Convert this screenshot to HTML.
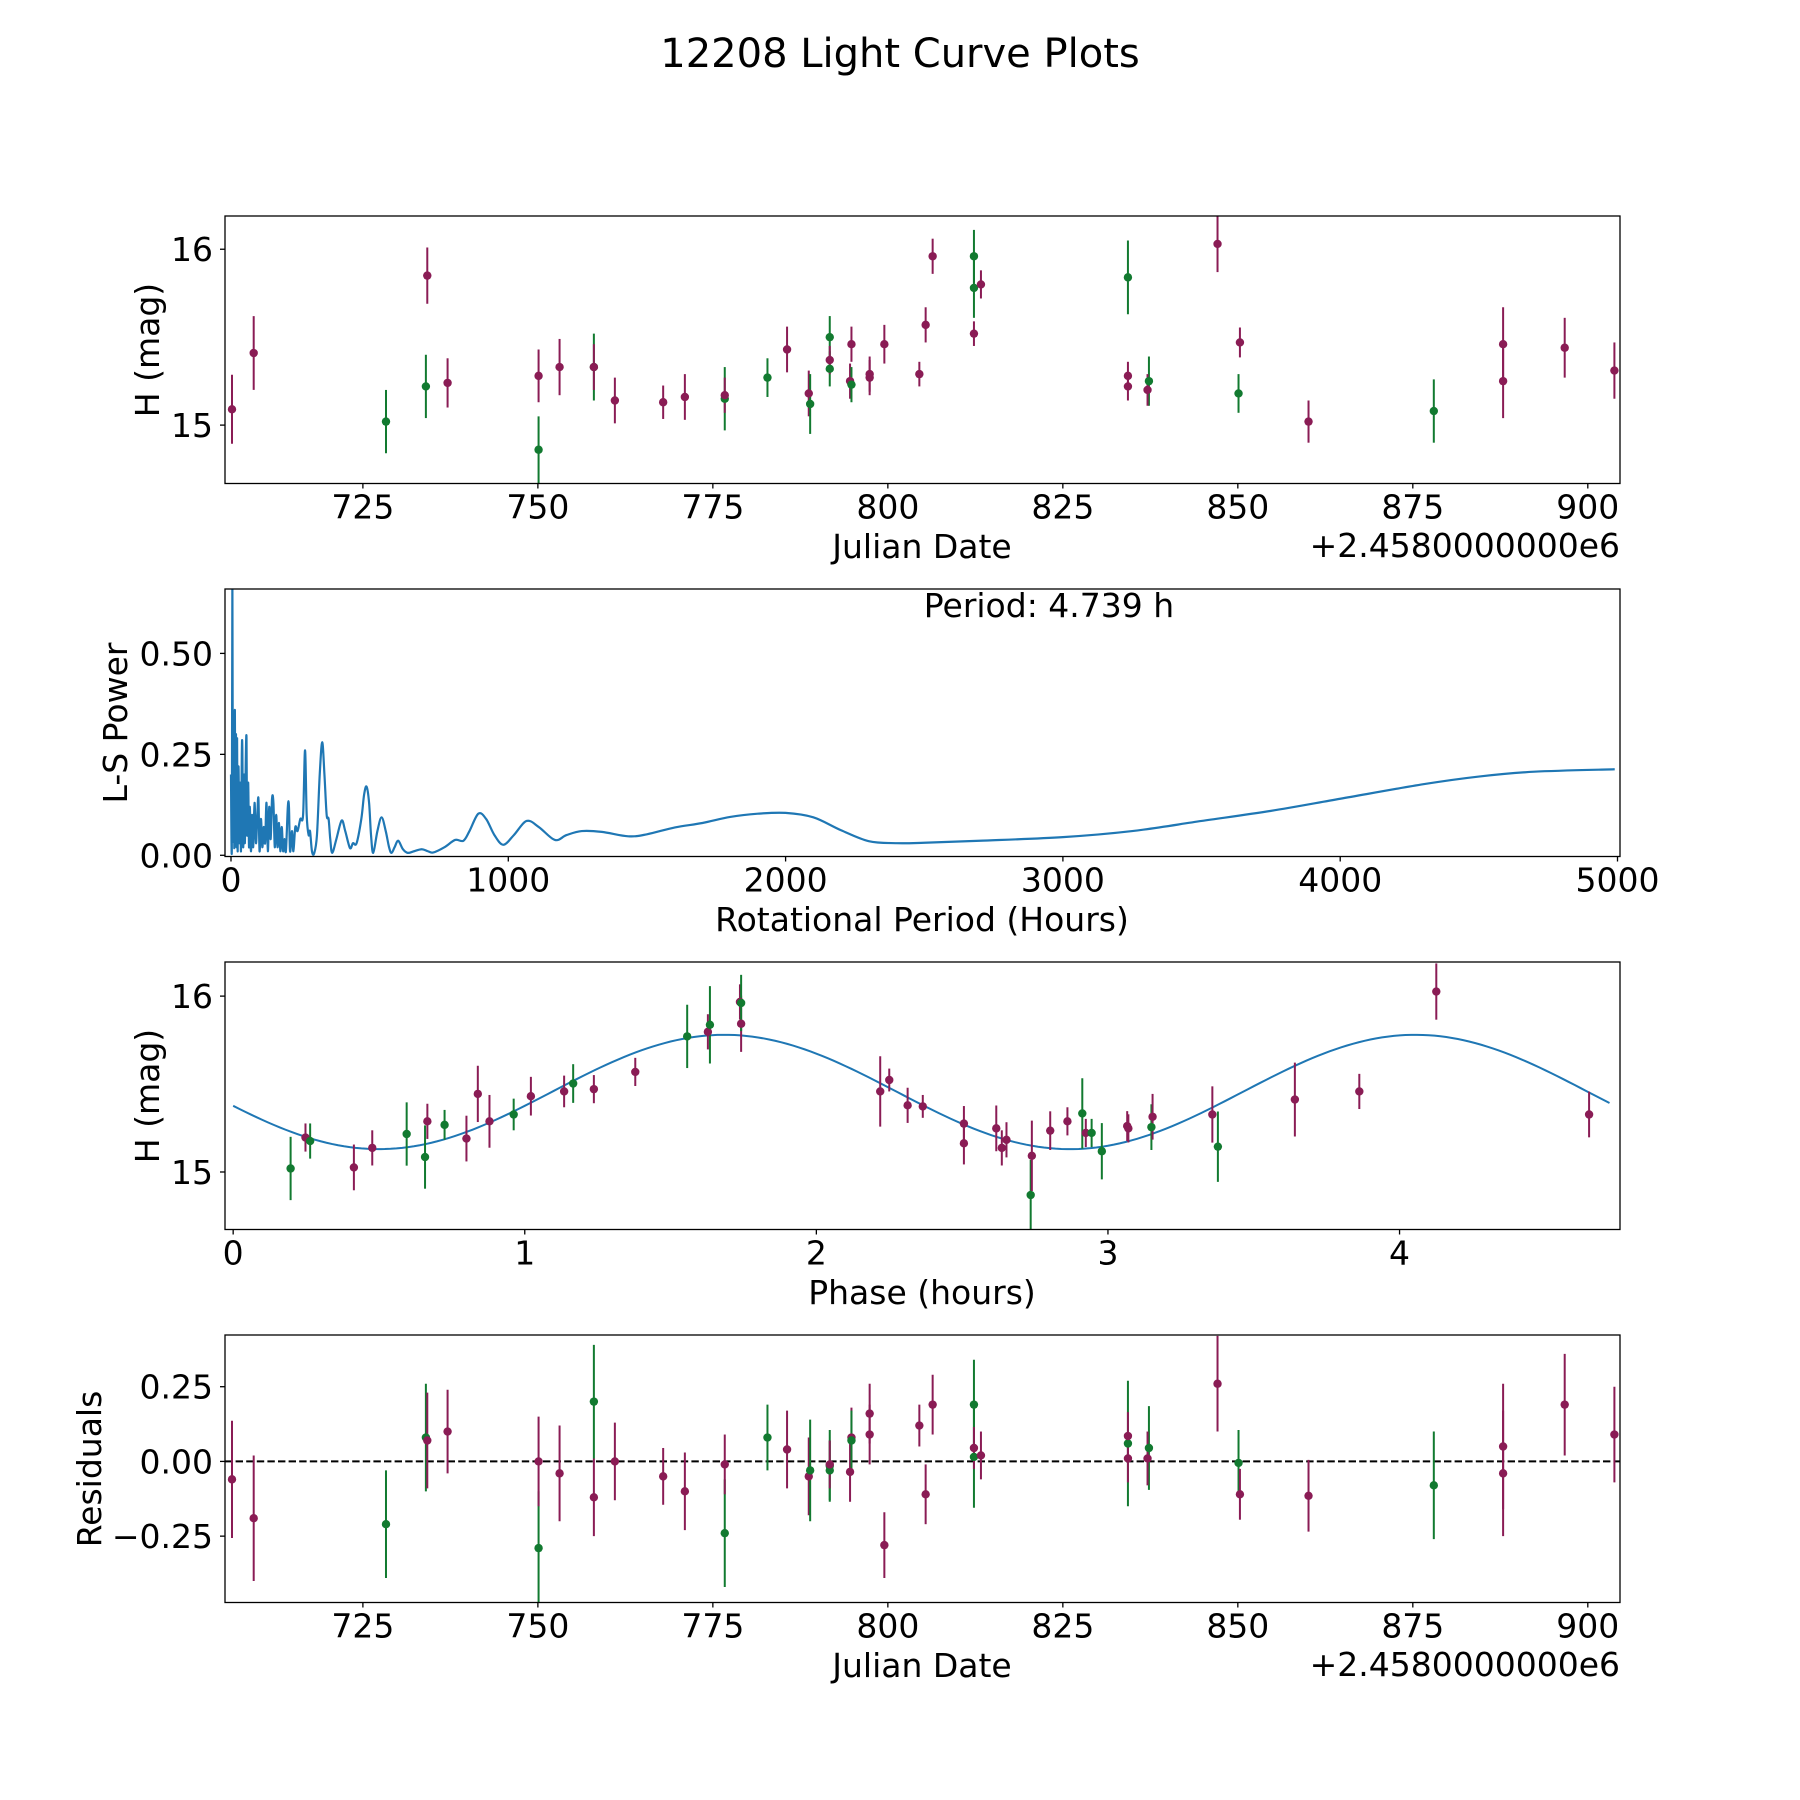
<!DOCTYPE html>
<html><head><meta charset="utf-8"><title>12208 Light Curve Plots</title>
<style>
html,body{margin:0;padding:0;background:#fff;}
svg{display:block;font-family:"DejaVu Sans","Liberation Sans",sans-serif;}
</style></head>
<body>
<svg id="fig" width="1800" height="1800" viewBox="0 0 1800 1800" xmlns="http://www.w3.org/2000/svg">
<rect width="1800" height="1800" fill="#fff"/>
<text x="900" y="67" font-size="40" text-anchor="middle">12208 Light Curve Plots</text>
</svg>
<script>
// ---------- Data: light curve (panel 1) ----------
const obsDates = [706.3,709.4,728.3,734.0,734.2,737.1,750.1,750.1,753.1,758.0,758.0,761.0,767.9,771.0,776.7,776.7,782.8,785.6,788.7,788.9,791.7,791.7,791.7,794.8,794.6,794.8,797.4,797.4,799.5,804.5,805.4,806.4,812.3,812.3,812.3,813.3,834.3,834.3,834.3,837.3,837.1,847.1,850.1,850.3,860.1,878.0,887.9,887.9,896.7,903.8];
const obsMags = [15.09,15.41,15.02,15.22,15.85,15.24,14.86,15.28,15.33,15.33,15.33,15.14,15.13,15.16,15.15,15.17,15.27,15.43,15.18,15.12,15.50,15.32,15.37,15.46,15.25,15.23,15.29,15.27,15.46,15.29,15.57,15.96,15.96,15.78,15.52,15.80,15.84,15.28,15.22,15.25,15.20,16.03,15.18,15.47,15.02,15.08,15.46,15.25,15.44,15.31];
const obsErrs = [0.196,0.21,0.18,0.18,0.16,0.14,0.19,0.15,0.16,0.19,0.13,0.13,0.095,0.13,0.18,0.1,0.11,0.13,0.13,0.17,0.12,0.10,0.08,0.1,0.1,0.1,0.1,0.1,0.11,0.07,0.1,0.1,0.15,0.17,0.07,0.08,0.21,0.08,0.08,0.14,0.09,0.16,0.11,0.085,0.12,0.18,0.21,0.21,0.17,0.16];
const obsColors = ['m','m','g','g','m','m','g','m','m','g','m','m','m','m','g','m','g','m','m','g','g','g','m','m','m','g','m','m','m','m','m','m','g','g','m','m','g','m','m','g','m','m','g','m','m','g','m','m','m','m'];
// ---------- Data: residuals (panel 4) ----------
const residuals = [-0.06,-0.19,-0.21,0.08,0.07,0.10,-0.29,0.0,-0.04,0.20,-0.12,0.0,-0.05,-0.10,-0.24,-0.01,0.08,0.04,-0.05,-0.03,-0.015,-0.03,-0.01,0.08,-0.035,0.07,0.09,0.16,-0.28,0.12,-0.11,0.19,0.19,0.015,0.045,0.02,0.06,0.085,0.01,0.045,0.01,0.26,-0.005,-0.11,-0.115,-0.08,0.05,-0.04,0.19,0.09];
// ---------- Data: periodogram (panel 2) ----------
const lsPeriods = [0,3,5,7,10,12,14,16,18,20,22,24,27,30,33,36,39,41,44,47,50,53,56,58,62,65,68,72,76,80,85,90,95,99,103,108,113,118,123,128,133,138,143,148,153,158,163,168,173,178,183,188,193,198,205,209,213,220,225,232,240,250,260,267,273,280,285,292,300,310,320,329,337,345,352,358,365,380,399,412,429,440,453,470,480,489,498,505,513,528,543,558,570,579,590,603,620,637,660,688,710,730,770,808,838,860,892,920,950,982,1020,1066,1110,1168,1210,1265,1337,1433,1500,1601,1700,1800,1900,2000,2100,2200,2300,2400,2500,2700,3000,3250,3500,3750,4000,4300,4500,4700,4990];
const lsPower = [0.2,0.02,0.68,0.05,0.2,0.02,0.36,0.05,0.3,0.02,0.29,0.01,0.22,0.03,0.18,0.01,0.25,0.26,0.02,0.2,0.03,0.22,0.29,0.05,0.18,0.02,0.12,0.01,0.1,0.02,0.13,0.03,0.1,0.14,0.01,0.09,0.02,0.07,0.03,0.13,0.01,0.12,0.04,0.14,0.13,0.02,0.1,0.02,0.08,0.01,0.07,0.01,0.04,0.01,0.12,0.12,0.01,0.06,0.01,0.07,0.06,0.09,0.1,0.26,0.1,0.05,0.06,0.01,0.005,0.05,0.2,0.28,0.2,0.10,0.09,0.04,0.006,0.04,0.086,0.06,0.018,0.03,0.03,0.09,0.15,0.17,0.13,0.05,0.006,0.06,0.094,0.06,0.02,0.006,0.02,0.036,0.015,0.006,0.01,0.015,0.01,0.007,0.02,0.038,0.036,0.06,0.103,0.09,0.05,0.026,0.05,0.085,0.07,0.038,0.05,0.06,0.058,0.047,0.052,0.069,0.08,0.095,0.103,0.105,0.094,0.062,0.035,0.03,0.031,0.036,0.045,0.06,0.085,0.11,0.14,0.176,0.195,0.207,0.213];
const periodLabel = "Period: 4.739 h";
// ---------- Data: phased (panel 3) ----------
const phases = [0.197,0.248,0.264,0.414,0.477,0.595,0.658,0.666,0.725,0.800,0.839,0.879,0.962,1.021,1.135,1.166,1.237,1.379,1.557,1.628,1.635,1.738,1.742,1.742,2.219,2.250,2.313,2.365,2.506,2.506,2.617,2.636,2.652,2.735,2.739,2.802,2.861,2.912,2.924,2.944,2.979,3.066,3.070,3.149,3.153,3.358,3.377,3.641,3.862,4.126,4.650];
const phaseMags = [15.02,15.196,15.176,15.026,15.137,15.216,15.085,15.288,15.268,15.19,15.444,15.288,15.327,15.431,15.458,15.503,15.471,15.569,15.771,15.797,15.837,15.967,15.843,15.961,15.458,15.523,15.379,15.373,15.275,15.163,15.248,15.137,15.183,14.869,15.092,15.235,15.288,15.333,15.222,15.222,15.118,15.261,15.248,15.255,15.314,15.327,15.144,15.412,15.458,16.026,15.327];
const phaseErrs = [0.18,0.08,0.10,0.13,0.10,0.18,0.18,0.10,0.085,0.13,0.16,0.15,0.09,0.11,0.09,0.11,0.08,0.08,0.18,0.10,0.22,0.10,0.16,0.16,0.20,0.065,0.10,0.065,0.10,0.12,0.13,0.10,0.10,0.20,0.20,0.11,0.08,0.20,0.08,0.08,0.16,0.085,0.08,0.13,0.13,0.16,0.20,0.21,0.10,0.16,0.13];
const phaseColors = ['g','m','g','m','m','g','g','m','g','m','m','m','g','m','m','g','m','m','g','m','g','m','m','g','m','m','m','m','m','m','m','m','m','g','m','m','m','g','m','g','g','m','m','g','m','m','g','m','m','m','m'];
// fit: [mean, amplitude, phase of minimum, sub-period, total period]
const fitParams = [15.455, 0.325, 0.5, 2.3695, 4.739];
// ---------- Ticks ----------
const dateTicks = [725,750,775,800,825,850,875,900];
const magTicks = [15,16];
const periodTicks = [0,1000,2000,3000,4000,5000];
const powerTicks = [0,0.25,0.5];
const powerTickLabels = ["0.00","0.25","0.50"];
const phaseTicks = [0,1,2,3,4];
const resTicks = [-0.25,0,0.25];
const resTickLabels = ["\u22120.25","0.00","0.25"];

const NS = "http://www.w3.org/2000/svg";
const svg = document.getElementById('fig');
const COL = {m:'#8a1c55', g:'#127a30'};
const L = 225, R = 1620, H = 267.5;
function mk(tag, attrs, parent){const e=document.createElementNS(NS,tag);for(const k in attrs)e.setAttribute(k,attrs[k]);(parent||svg).appendChild(e);return e;}
function lin(d0,d1,r0,r1){return v=>r0+(v-d0)/(d1-d0)*(r1-r0);}

function makeAxes(id, top, xlim, ylim){
  const sx = lin(xlim[0],xlim[1],L,R), sy = lin(ylim[0],ylim[1],top+H,top);
  const cp = mk('clipPath',{id:'clip-'+id});
  mk('rect',{x:L,y:top,width:R-L,height:H},cp);
  const g = mk('g',{'clip-path':'url(#clip-'+id+')'});
  
  
  return {sx,sy,top,g,bottom:top+H};
}
function frame(ax,id){
  const r = mk('rect',{x:L,y:ax.top,width:R-L,height:H,fill:'none',stroke:'#000','stroke-width':1.3});
  
  
}
function xTicks(ax,id,ticks,labels){
  const g = mk('g',{});
  
  
  ticks.forEach((t,i)=>{
    const x = ax.sx(t);
    mk('line',{x1:x,x2:x,y1:ax.bottom,y2:ax.bottom+5,stroke:'#000','stroke-width':1.3},g);
    const tx = mk('text',{x:x,y:ax.bottom+35,'font-size':33,'text-anchor':'middle'},g);
    tx.textContent = labels?labels[i]:String(t);
    
    
  });
}
function yTicks(ax,id,ticks,labels){
  const g = mk('g',{});
  
  
  ticks.forEach((t,i)=>{
    const y = ax.sy(t);
    mk('line',{x1:L-5,x2:L,y1:y,y2:y,stroke:'#000','stroke-width':1.3},g);
    const tx = mk('text',{x:213,y:y+12,'font-size':33,'text-anchor':'end'},g);
    tx.textContent = labels?labels[i]:String(t);
    
    
  });
}
function label(x,y,txt,name,rot,anchor){
  const t = mk('text',{x:x,y:y,'font-size':33,'text-anchor':anchor||'middle'});
  if(rot) t.setAttribute('transform','rotate(-90 '+x+' '+y+')');
  t.textContent = txt;
  
  
}
function errPoints(ax,xs,ys,es,cs,id){
  xs.forEach((xv,i)=>{
    const x = ax.sx(xv), c = COL[cs[i]];
    const ln = mk('line',{x1:x,x2:x,y1:ax.sy(ys[i]-es[i]),y2:ax.sy(ys[i]+es[i]),stroke:c,'stroke-width':2},ax.g);
    
    
  });
  xs.forEach((xv,i)=>{
    const c = COL[cs[i]];
    const p = mk('circle',{cx:ax.sx(xv),cy:ax.sy(ys[i]),r:4.2,fill:c},ax.g);
    
    
  });
}
function smoothPath(pts){
  let d = 'M'+pts[0][0]+','+pts[0][1];
  for(let i=0;i<pts.length-1;i++){
    const p0=pts[Math.max(0,i-1)], p1=pts[i], p2=pts[i+1], p3=pts[Math.min(pts.length-1,i+2)];
    const c1x=p1[0]+(p2[0]-p0[0])/6, c1y=p1[1]+(p2[1]-p0[1])/6;
    const c2x=p2[0]-(p3[0]-p1[0])/6, c2y=p2[1]-(p3[1]-p1[1])/6;
    d += ' C'+c1x+','+c1y+' '+c2x+','+c2y+' '+p2[0]+','+p2[1];
  }
  return d;
}

// Panel 1
const a1 = makeAxes('light-curve',216,[705.3,904.6],[14.668,16.189]);
errPoints(a1,obsDates,obsMags,obsErrs,obsColors,'light-curve');
frame(a1,'light-curve'); xTicks(a1,'light-curve',dateTicks); yTicks(a1,'light-curve',magTicks);
label(922,558,'Julian Date','light-curve-x-title');
label(1620,557,'+2.4580000000e6','light-curve-x-offset',false,'end');
label(159,350,'H (mag)','light-curve-y-title',true);

// Panel 2
const a2 = makeAxes('periodogram',589,[-21.6,5009],[-0.003,0.6595]);
const pl = mk('path',{d:smoothPath(lsPeriods.map((p,i)=>[a2.sx(p),a2.sy(lsPower[i])])),fill:'none',stroke:'#1f77b4','stroke-width':2.2,'stroke-linejoin':'round'},a2.g);


frame(a2,'periodogram'); xTicks(a2,'periodogram',periodTicks); yTicks(a2,'periodogram',powerTicks,powerTickLabels);
label(1049,617,periodLabel,'period-annotation');
label(922,931,'Rotational Period (Hours)','periodogram-x-title');
label(127,723,'L-S Power','periodogram-y-title',true);

// Panel 3
const a3 = makeAxes('phased',962,[-0.028,4.756],[14.673,16.194]);
const fitX = []; for(let p=0;p<=fitParams[4]+1e-9;p+=0.02) fitX.push(p);
const fl = mk('polyline',{points:fitX.map(p=>a3.sx(p)+','+a3.sy(fitParams[0]-fitParams[1]*Math.cos(2*Math.PI*(p-fitParams[2])/fitParams[3]))).join(' '),fill:'none',stroke:'#1f77b4','stroke-width':2},a3.g);


errPoints(a3,phases,phaseMags,phaseErrs,phaseColors,'phased');
frame(a3,'phased'); xTicks(a3,'phased',phaseTicks); yTicks(a3,'phased',magTicks);
label(922,1304,'Phase (hours)','phased-x-title');
label(159,1096,'H (mag)','phased-y-title',true);

// Panel 4
const a4 = makeAxes('residuals',1335,[705.3,904.6],[-0.472,0.423]);
const zl = mk('line',{x1:L,x2:R,y1:a4.sy(0),y2:a4.sy(0),stroke:'#000','stroke-width':2,'stroke-dasharray':'7.4,3.2'},a4.g);


errPoints(a4,obsDates,residuals,obsErrs,obsColors,'residuals');
frame(a4,'residuals'); xTicks(a4,'residuals',dateTicks); yTicks(a4,'residuals',resTicks,resTickLabels);
label(922,1677,'Julian Date','residuals-x-title');
label(1620,1676,'+2.4580000000e6','residuals-x-offset',false,'end');
label(101,1469,'Residuals','residuals-y-title',true);
</script>
</body></html>
